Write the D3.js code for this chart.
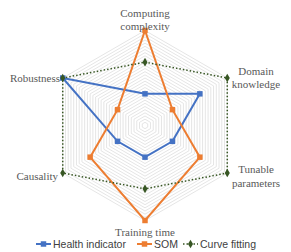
<!DOCTYPE html>
<html><head><meta charset="utf-8">
<script src="https://cdn.jsdelivr.net/npm/d3@7"></script>
<style>html,body{margin:0;padding:0;background:#fff;}svg{display:block;}</style>
</head><body>
<svg id="chart" width="291" height="252"></svg>
<script>
const categories = ["Computing complexity","Domain knowledge","Tunable parameters","Training time","Causality","Robustness"];
const seriesNames = ["Health indicator","SOM","Curve fitting"];
const healthIndicator = [1,2,1,1,1,3];
const som = [3,1,2,3,2,1];
const curveFitting = [2,3,3,2,3,3];
const gridTicks = d3.range(1,31).map(d=>d/10);

const svg = d3.select("#chart");
const cx = 145, cy = 125.5, R = 95;
const r = d3.scaleLinear().domain([0,3]).range([0,R]);
const ang = d3.scalePoint().domain(categories.concat(["_end"])).range([0, 2*Math.PI]);
const pt = (c, v) => { const a = ang(c); return [cx + r(v)*Math.sin(a), cy - r(v)*Math.cos(a)]; };

const g = svg.append("g");
gridTicks.forEach(t => {
  g.append("path")
   .attr("d", d3.line()(categories.map(c=>pt(c,t))) + "Z")
   .attr("fill","none").attr("stroke","#dcdcdc").attr("stroke-width",0.75);
});

const series = [
  {name:seriesNames[0], vals:healthIndicator, color:"#4472C4", w:2, dash:null, marker:"square"},
  {name:seriesNames[1], vals:som, color:"#ED7D31", w:2, dash:null, marker:"square"},
  {name:seriesNames[2], vals:curveFitting, color:"#375623", w:1.5, dash:"1.5,2", marker:"diamond"}
];
const sym = {square: d3.symbol().type(d3.symbolSquare).size(30), diamond: d3.symbol().type(d3.symbolDiamond).size(22)};

series.forEach(s => {
  const pts = categories.map((c,i)=>pt(c,s.vals[i]));
  g.append("path").attr("d", d3.line()(pts)+"Z")
   .attr("fill","none").attr("stroke",s.color).attr("stroke-width",s.w)
   .attr("stroke-dasharray",s.dash).attr("stroke-linejoin","miter");
  pts.forEach(p => g.append("path").attr("d", sym[s.marker]()).attr("transform",`translate(${p[0]},${p[1]})`).attr("fill",s.color));
});

const lab = {
  "Computing complexity": {x:145, y:[17,30], anchor:"middle", lines:["Computing","complexity"]},
  "Domain knowledge": {x:256, y:[75,88], anchor:"middle", lines:["Domain","knowledge"]},
  "Tunable parameters": {x:256, y:[173,187], anchor:"middle", lines:["Tunable","parameters"]},
  "Training time": {x:145, y:[236], anchor:"middle", lines:["Training time"]},
  "Causality": {x:58, y:[180], anchor:"end", lines:["Causality"]},
  "Robustness": {x:60, y:[82], anchor:"end", lines:["Robustness"]}
};
categories.forEach(c => {
  const L = lab[c];
  L.lines.forEach((t,i) => svg.append("text").attr("x",L.x).attr("y",L.y[i]).attr("text-anchor",L.anchor)
    .style("font-family","Liberation Serif").style("font-size","11px").attr("fill","#595959").text(t));
});

const legX = [36, 137, 183];
const ly = 244;
series.forEach((s,i) => {
  const x0 = legX[i];
  svg.append("line").attr("x1",x0).attr("x2",x0+15).attr("y1",ly).attr("y2",ly)
    .attr("stroke",s.color).attr("stroke-width",s.w).attr("stroke-dasharray",s.dash);
  svg.append("path").attr("d", sym[s.marker]()).attr("transform",`translate(${x0+7.5},${ly})`).attr("fill",s.color);
  svg.append("text").attr("x",x0+17).attr("y",ly+4).style("font-family","Liberation Sans")
    .style("font-size","10.5px").attr("fill","#404040").text(s.name);
});
</script>
</body></html>
